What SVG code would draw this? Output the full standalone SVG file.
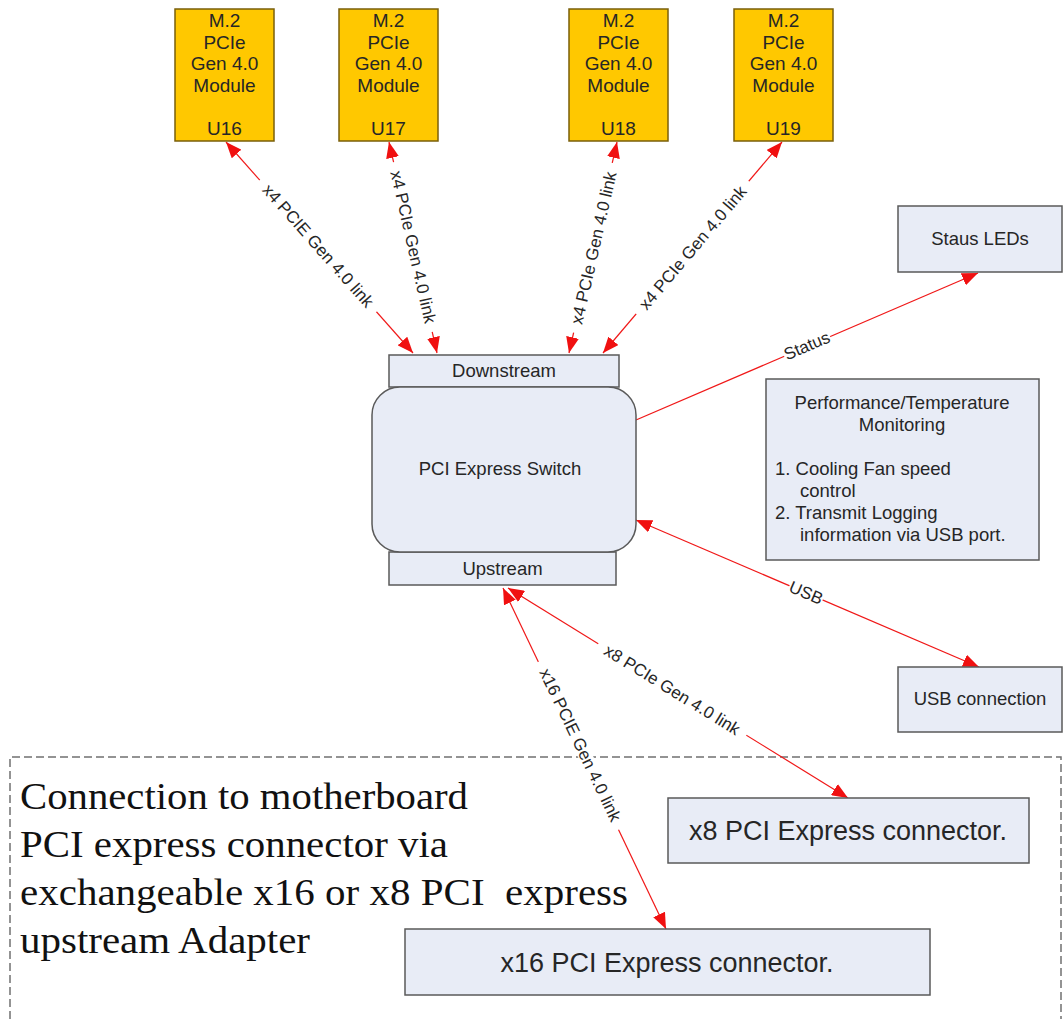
<svg xmlns="http://www.w3.org/2000/svg" width="1063" height="1019" viewBox="0 0 1063 1019">
<style>
text{font-family:"Liberation Sans",Arial,sans-serif;fill:#262626}
.m2{fill:#FFC800;stroke:#7a5f0a;stroke-width:1.5}
.box{fill:#E8ECF6;stroke:#5a5a5a;stroke-width:1.5}
.t{font-size:18.5px;text-anchor:middle}
.tm{font-size:19px;text-anchor:middle}
.tl{font-size:18.5px}
.big{font-size:27px;text-anchor:middle}
.lbl{font-size:17px;text-anchor:middle;dominant-baseline:central}
.bg{fill:#fff}
.ln{stroke:#f01818;stroke-width:1.2;fill:none}
.two{marker-start:url(#ah);marker-end:url(#ah)}
.one{marker-end:url(#ah)}
.serif{font-family:"Liberation Serif","Times New Roman",serif;font-size:38px;fill:#111}
</style>
<defs>
<marker id="ah" markerUnits="userSpaceOnUse" markerWidth="17" markerHeight="13" refX="16" refY="6.5" orient="auto-start-reverse">
<path d="M0,0 L16,6.5 L0,13 z" fill="#f01010"/>
</marker>
</defs>

<g id="border">
<path d="M10,1019 V757 H1061 V1019" fill="none" stroke="#707070" stroke-width="1.5" stroke-dasharray="8 4"/>
</g>

<g id="note">
<text class="serif" x="20" y="809" textLength="448" lengthAdjust="spacingAndGlyphs">Connection to motherboard</text>
<text class="serif" x="20" y="857" textLength="428" lengthAdjust="spacingAndGlyphs">PCI express connector via</text>
<text class="serif" x="20" y="905" textLength="608" lengthAdjust="spacingAndGlyphs" xml:space="preserve">exchangeable x16 or x8 PCI  express</text>
<text class="serif" x="20" y="953" textLength="290" lengthAdjust="spacingAndGlyphs">upstream Adapter</text>
</g>

<g id="connectors">
<line class="ln two" x1="226" y1="142" x2="413" y2="353"/>
<line class="ln two" x1="389" y1="142" x2="437" y2="353"/>
<line class="ln two" x1="617" y1="142" x2="569" y2="353"/>
<line class="ln two" x1="782" y1="142" x2="603" y2="353"/>
<line class="ln one" x1="636" y1="420" x2="978" y2="273"/>
<line class="ln two" x1="636" y1="520" x2="979" y2="667"/>
<line class="ln two" x1="508" y1="588" x2="848" y2="798"/>
<line class="ln two" x1="503" y1="588" x2="666" y2="929"/>
<g transform="translate(318,246) rotate(48.5)"><rect class="bg" x="-88" y="-7" width="176" height="14"/><text class="lbl">x4 PCIE Gen 4.0 link</text></g>
<g transform="translate(413,247) rotate(77.2)"><rect class="bg" x="-87" y="-7" width="174" height="14"/><text class="lbl">x4 PCIe Gen 4.0 link</text></g>
<g transform="translate(594,248) rotate(-77.2)"><rect class="bg" x="-87" y="-7" width="174" height="14"/><text class="lbl">x4 PCIe Gen 4.0 link</text></g>
<g transform="translate(693,248) rotate(-49.7)"><rect class="bg" x="-87" y="-7" width="174" height="14"/><text class="lbl">x4 PCIe Gen 4.0 link</text></g>
<g transform="translate(807,346) rotate(-23.3)"><rect class="bg" x="-25" y="-7" width="50" height="14"/><text class="lbl">Status</text></g>
<g transform="translate(806,593) rotate(23.2)"><rect class="bg" x="-18" y="-7" width="36" height="14"/><text class="lbl">USB</text></g>
<g transform="translate(672,690) rotate(31.7)"><rect class="bg" x="-87" y="-7" width="174" height="14"/><text class="lbl">x8 PCIe Gen 4.0 link</text></g>
<g transform="translate(580,745) rotate(64.4)"><rect class="bg" x="-93" y="-7" width="186" height="14"/><text class="lbl">x16 PCIE Gen 4.0 link</text></g>
</g>

<g id="u16">
<rect class="m2" x="175" y="9" width="99" height="132"/>
<text class="tm" x="224.5" y="27">M.2</text>
<text class="tm" x="224.5" y="48.5">PCIe</text>
<text class="tm" x="224.5" y="70">Gen 4.0</text>
<text class="tm" x="224.5" y="91.5">Module</text>
<text class="tm" x="224.5" y="135">U16</text>
</g>
<g id="u17">
<rect class="m2" x="339" y="9" width="99" height="132"/>
<text class="tm" x="388.5" y="27">M.2</text>
<text class="tm" x="388.5" y="48.5">PCIe</text>
<text class="tm" x="388.5" y="70">Gen 4.0</text>
<text class="tm" x="388.5" y="91.5">Module</text>
<text class="tm" x="388.5" y="135">U17</text>
</g>
<g id="u18">
<rect class="m2" x="569" y="9" width="99" height="132"/>
<text class="tm" x="618.5" y="27">M.2</text>
<text class="tm" x="618.5" y="48.5">PCIe</text>
<text class="tm" x="618.5" y="70">Gen 4.0</text>
<text class="tm" x="618.5" y="91.5">Module</text>
<text class="tm" x="618.5" y="135">U18</text>
</g>
<g id="u19">
<rect class="m2" x="734" y="9" width="99" height="132"/>
<text class="tm" x="783.5" y="27">M.2</text>
<text class="tm" x="783.5" y="48.5">PCIe</text>
<text class="tm" x="783.5" y="70">Gen 4.0</text>
<text class="tm" x="783.5" y="91.5">Module</text>
<text class="tm" x="783.5" y="135">U19</text>
</g>

<g id="downstream">
<rect class="box" x="389" y="355" width="230" height="32"/>
<text class="t" x="504" y="377">Downstream</text>
</g>
<g id="upstream">
<rect class="box" x="389" y="552" width="227" height="33"/>
<text class="t" x="502.5" y="575">Upstream</text>
</g>
<g id="switch">
<rect class="box" x="372" y="387" width="264" height="165" rx="28" ry="28"/>
<text class="t" x="500" y="475">PCI Express Switch</text>
</g>

<g id="leds">
<rect class="box" x="898" y="206" width="164" height="66"/>
<text class="t" x="980" y="245">Staus LEDs</text>
</g>

<g id="monitor">
<rect class="box" x="766" y="379" width="273" height="181"/>
<text class="t" x="902" y="409">Performance/Temperature</text>
<text class="t" x="902" y="431">Monitoring</text>
<text class="tl" x="775" y="475">1. Cooling Fan speed</text>
<text class="tl" x="800" y="497">control</text>
<text class="tl" x="775" y="519">2. Transmit Logging</text>
<text class="tl" x="800" y="541">information via USB port.</text>
</g>

<g id="usb">
<rect class="box" x="898" y="667" width="164" height="65"/>
<text class="t" x="980" y="705">USB connection</text>
</g>

<g id="x8conn">
<rect class="box" x="668" y="798" width="361" height="65"/>
<text class="big" x="848" y="840">x8 PCI Express connector.</text>
</g>

<g id="x16conn">
<rect class="box" x="405" y="929" width="525" height="66"/>
<text class="big" x="667" y="972">x16 PCI Express connector.</text>
</g>
</svg>
